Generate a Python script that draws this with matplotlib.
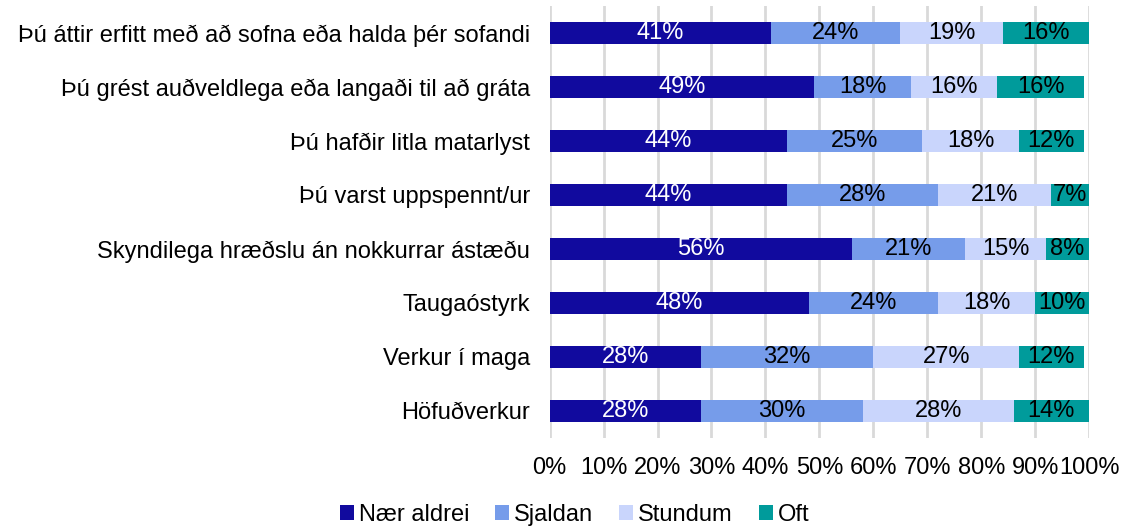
import numpy as np
import matplotlib
matplotlib.use("Agg")
import matplotlib.pyplot as plt
from matplotlib.ticker import FuncFormatter

plt.rcParams['font.family'] = ['Liberation Sans', 'DejaVu Sans']

flokkar = ['Þú áttir erfitt með að sofna eða halda þér sofandi',
           'Þú grést auðveldlega eða langaði til að gráta',
           'Þú hafðir litla matarlyst',
           'Þú varst uppspennt/ur',
           'Skyndilega hræðslu án nokkurrar ástæðu',
           'Taugaóstyrk',
           'Verkur í maga',
           'Höfuðverkur']
naer_aldrei = [41, 49, 44, 44, 56, 48, 28, 28]
sjaldan = [24, 18, 25, 28, 21, 24, 32, 30]
stundum = [19, 16, 18, 21, 15, 18, 27, 28]
oft = [16, 16, 12, 7, 8, 10, 12, 14]
radir = ['Nær aldrei', 'Sjaldan', 'Stundum', 'Oft']

litir = ['#110a9e', '#769cea', '#c9d5fc', '#009b9b']
textalitir = ['white', 'black', 'black', 'black']
fs = 17

fig = plt.figure(figsize=(11.24, 5.29), dpi=100)
ax = fig.add_axes([0.489, 0.172, 0.480, 0.817])

y = np.arange(len(flokkar))
vinstri = np.zeros(len(flokkar))
for nafn, gildi, litur, tl in zip(radir, [naer_aldrei, sjaldan, stundum, oft], litir, textalitir):
    gildi = np.array(gildi, dtype=float)
    bars = ax.barh(y, gildi, left=vinstri, height=0.4, color=litur, label=nafn, zorder=3)
    for b, v in zip(bars, gildi):
        ax.text(b.get_x() + b.get_width() / 2, b.get_y() + b.get_height() / 2, f'{v:.0f}%',
                ha='center', va='center', color=tl, fontsize=fs, zorder=4)
    vinstri += gildi

ax.set_ylim(len(flokkar) - 0.5, -0.5)
ax.set_xlim(0, 100)
ax.set_yticks(y)
ax.set_yticklabels(flokkar, fontsize=fs)
ax.set_xticks(np.arange(0, 101, 10))
ax.xaxis.set_major_formatter(FuncFormatter(lambda v, p: f'{v:.0f}%'))
ax.tick_params(axis='x', labelsize=fs, length=0, pad=14)
ax.tick_params(axis='y', length=0, pad=14)
ax.grid(axis='x', color='#d9d9d9', linewidth=2, zorder=0)
for s in ax.spines.values():
    s.set_visible(False)

fig.legend(loc='lower center', bbox_to_anchor=(0.511, -0.035), ncol=4, frameon=False,
           fontsize=fs, handlelength=0.6, handleheight=0.6, handletextpad=0.2,
           columnspacing=1.1)

fig.savefig('out.png', dpi=100)
